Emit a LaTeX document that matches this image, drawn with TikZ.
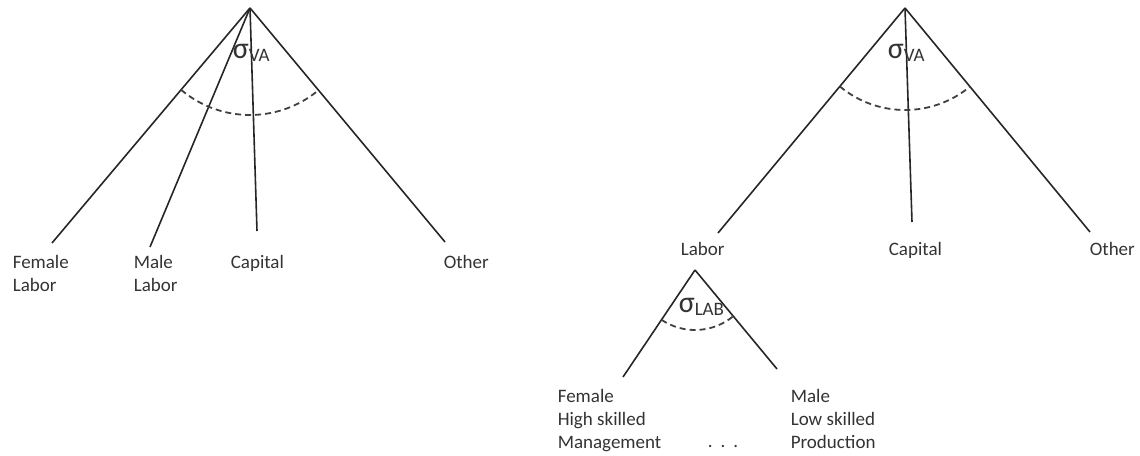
\documentclass[tikz,border=0pt]{standalone}
\usepackage{fontspec}
\setmainfont{Carlito}

\begin{document}
\begin{tikzpicture}
  [x=0.5pt, y=-0.5pt, line width=0.8pt,
   branch/.style={draw=black!85},
   share/.style={draw=black!75, line width=0.9pt, dashed, dash pattern=on 3pt off 2pt},
   every node/.style={inner sep=0pt, text=black!80, font=\fontsize{9.5}{11.5}\selectfont},
   lbl/.style={anchor=north west, align=left},
   sig/.style={anchor=base west}]
  \useasboundingbox (0,0) rectangle (1140,455);
  % left nest: all four inputs at one level
  \coordinate (lva) at (250,8);
  \coordinate (lfem) at (52,243);
  \coordinate (lmale) at (150,247);
  \coordinate (lcap) at (257,231);
  \coordinate (loth) at (445,242);
  \draw[branch] (lva) -- (lfem);
  \draw[branch] (lva) -- (lmale);
  \draw[branch] (lva) -- (lcap);
  \draw[branch] (lva) -- (loth);
  \draw[share] (lva) ++(130.1:107) arc[start angle=130.1, end angle=50.2, radius=107];
  \node[sig] (lsig) at (232,58) {{\fontsize{15}{15}\selectfont σ}\raisebox{-0.4ex}{VA}};
  \node[lbl] (lfemlbl) at (12,255) {Female\\Labor};
  \node[lbl] (lmalelbl) at (133,255) {Male\\Labor};
  \node[lbl] (lcaplbl) at (230,255) {Capital};
  \node[lbl] (lothlbl) at (443,255) {Other};
  % right nest: labor bundle split below
  \coordinate (rva) at (905,8);
  \coordinate (rlab) at (718,233);
  \coordinate (rcap) at (912,222);
  \coordinate (roth) at (1090,232);
  \draw[branch] (rva) -- (rlab);
  \draw[branch] (rva) -- (rcap);
  \draw[branch] (rva) -- (roth);
  \draw[share] (rva) ++(129.7:102) arc[start angle=129.7, end angle=50.4, radius=102];
  \node[sig] (rsig) at (887,58) {{\fontsize{15}{15}\selectfont σ}\raisebox{-0.4ex}{VA}};
  \node[lbl] (rlablbl) at (680,242) {Labor};
  \node[lbl] (rcaplbl) at (888,242) {Capital};
  \node[lbl] (rothlbl) at (1089,242) {Other};
  % labor types
  \coordinate (lab) at (695,270);
  \coordinate (labf) at (623,377);
  \coordinate (labm) at (777,369);
  \draw[branch] (lab) -- (labf);
  \draw[branch] (lab) -- (labm);
  \draw[share] (lab) ++(123.9:60) arc[start angle=123.9, end angle=50.4, radius=60];
  \node[sig] (labsig) at (678,312) {{\fontsize{15}{15}\selectfont σ}\raisebox{-0.4ex}{LAB}};
  \node[lbl] (labflbl) at (557,389) {Female\\High skilled\\Management};
  \node[lbl] (labmlbl) at (790,389) {Male\\Low skilled\\Production};
  \node[anchor=base west] (dots) at (707,447) {.\hspace{4pt}.\hspace{4pt}.};
\end{tikzpicture}
\end{document}
